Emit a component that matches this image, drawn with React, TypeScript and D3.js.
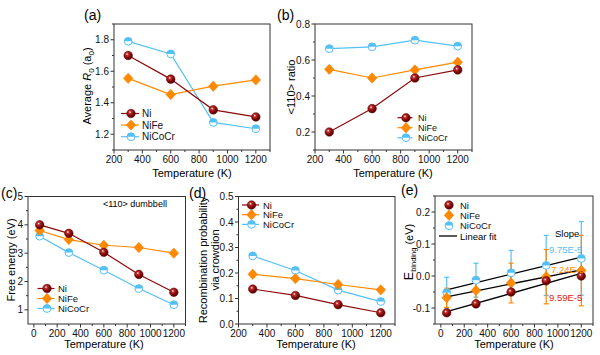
import React from 'react';
import * as d3 from 'd3';

// ---------- data ----------
const tempsAB = [300, 600, 900, 1200];
const tempsCE = [50, 300, 600, 900, 1200];

const aNi = [1.70, 1.55, 1.355, 1.31];
const aNiFe = [1.555, 1.452, 1.505, 1.545];
const aNiCoCr = [1.79, 1.71, 1.275, 1.235];

const bNi = [0.20, 0.33, 0.50, 0.545];
const bNiFe = [0.548, 0.50, 0.545, 0.588];
const bNiCoCr = [0.663, 0.673, 0.71, 0.677];

const cNi = [4.0, 3.7, 3.03, 2.25, 1.62];
const cNiFe = [3.8, 3.48, 3.28, 3.2, 3.0];
const cNiCoCr = [3.6, 3.02, 2.4, 1.75, 1.18];

const dNi = [0.137, 0.112, 0.076, 0.044];
const dNiFe = [0.195, 0.178, 0.155, 0.134];
const dNiCoCr = [0.267, 0.21, 0.133, 0.088];

const eNi = [-0.115, -0.087, -0.05, -0.015, 0.0];
const eNiFe = [-0.068, -0.045, -0.022, -0.002, 0.017];
const eNiCoCr = [-0.052, -0.013, 0.01, 0.033, 0.055];
const eErrNi = [0.004, 0.004, 0.005, 0.006, 0.008];
const eErrNiFe = [0.03, 0.042, 0.062, 0.085, 0.11];
const eErrNiCoCr = [0.048, 0.053, 0.07, 0.094, 0.115];
const slopeLabels = ['9.75E-5', '7.24E-5', '9.59E-5'];

const seriesNames = ['Ni', 'NiFe', 'NiCoCr'];

// ---------- style ----------
const C_NI = '#8B0A0A';
const C_NIFE = '#FF8A00';
const C_NICOCR = '#55C0F5';
const FONT = '"Liberation Sans", Arial, sans-serif';
const AXIS = '#333';

function Marker({ kind, x, y }: { kind: string; x: number; y: number }) {
  if (kind === 'Ni') {
    return (
      <g transform={`translate(${x},${y})`}>
        <circle r={4.3} fill="url(#sphereNi)" stroke="#5a0000" strokeWidth={0.5} />
      </g>
    );
  }
  if (kind === 'NiFe') {
    return (
      <g transform={`translate(${x},${y})`}>
        <path d="M0,-5.2L4.8,0L0,5.2L-4.8,0Z" fill={C_NIFE} stroke="#f07800" strokeWidth={0.5} />
      </g>
    );
  }
  const r = 3.9;
  return (
    <g transform={`translate(${x},${y})`}>
      <circle r={r} fill="#fff" stroke={C_NICOCR} strokeWidth={1} />
      <path d={`M${-r},0A${r},${r} 0 0 1 ${r},0Z`} fill={C_NICOCR} />
    </g>
  );
}

const colorOf: Record<string, string> = { Ni: C_NI, NiFe: C_NIFE, NiCoCr: C_NICOCR };

type PanelProps = {
  left: number; right: number; top: number; bottom: number;
  xDomain: [number, number]; yDomain: [number, number];
  xTicks: number[]; xMinor: number[];
  yTicks: number[]; yMinor: number[];
  yFmt: (v: number) => string;
  children: (x: d3.ScaleLinear<number, number>, y: d3.ScaleLinear<number, number>) => React.ReactNode;
};

function Panel(p: PanelProps) {
  const x = d3.scaleLinear().domain(p.xDomain).range([p.left, p.right]);
  const y = d3.scaleLinear().domain(p.yDomain).range([p.bottom, p.top]);
  return (
    <g>
      {p.children(x, y)}
      <rect x={p.left} y={p.top} width={p.right - p.left} height={p.bottom - p.top}
        fill="none" stroke={AXIS} strokeWidth={1} />
      {p.xTicks.map((t) => (
        <g key={'xt' + t}>
          <line x1={x(t)} x2={x(t)} y1={p.bottom} y2={p.bottom + 3.5} stroke={AXIS} />
          <text x={x(t)} y={p.bottom + 13} textAnchor="middle" fontSize={10} fontFamily={FONT} fill="#111">{t}</text>
        </g>
      ))}
      {p.xMinor.map((t) => (
        <line key={'xm' + t} x1={x(t)} x2={x(t)} y1={p.bottom} y2={p.bottom + 2} stroke={AXIS} />
      ))}
      {p.yTicks.map((t) => (
        <g key={'yt' + t}>
          <line x1={p.left - 3.5} x2={p.left} y1={y(t)} y2={y(t)} stroke={AXIS} />
          <text x={p.left - 5} y={y(t) + 3.5} textAnchor="end" fontSize={10} fontFamily={FONT} fill="#111">{p.yFmt(t)}</text>
        </g>
      ))}
      {p.yMinor.map((t) => (
        <line key={'ym' + t} x1={p.left - 2} x2={p.left} y1={y(t)} y2={y(t)} stroke={AXIS} />
      ))}
    </g>
  );
}

function Series({ x, y, xs, ys, name }: any) {
  const line = d3.line<number>().x((_, i) => x(xs[i])).y((v) => y(v));
  return (
    <g>
      <path d={line(ys) || ''} fill="none" stroke={colorOf[name]} strokeWidth={1.2} />
      {ys.map((v: number, i: number) => <Marker key={i} kind={name} x={x(xs[i])} y={y(v)} />)}
    </g>
  );
}

function Legend({ x0, y0, dy, len, textX, fs, names, withLine = true }: any) {
  return (
    <g>
      {names.map((n: string, i: number) => (
        <g key={n}>
          {withLine && <line x1={x0} x2={x0 + len} y1={y0 + i * dy} y2={y0 + i * dy} stroke={colorOf[n]} strokeWidth={1.2} />}
          <Marker kind={n} x={x0 + len / 2 + 1} y={y0 + i * dy} />
          <text x={textX} y={y0 + i * dy + 3.5} fontSize={fs} fontFamily={FONT} fill="#111">{n}</text>
        </g>
      ))}
    </g>
  );
}

const range = (a: number, b: number, s: number) => d3.range(a, b + s / 2, s).map((v) => +v.toFixed(4));

function linreg(xs: number[], ys: number[]) {
  const mx = d3.mean(xs)!, my = d3.mean(ys)!;
  const sxy = d3.sum(xs.map((v, i) => (v - mx) * (ys[i] - my)));
  const sxx = d3.sum(xs.map((v) => (v - mx) ** 2));
  const m = sxy / sxx;
  return { m, b: my - m * mx };
}

export default function App() {
  const tf = (v: number) => v.toFixed(1);
  const xTickA = range(200, 1200, 200);
  const xMinorA = range(300, 1300, 200);
  const xTickC = range(0, 1200, 200);
  const xMinorC = range(100, 1300, 200);

  const eSeries = [
    { name: 'NiCoCr', ys: eNiCoCr, err: eErrNiCoCr },
    { name: 'NiFe', ys: eNiFe, err: eErrNiFe },
    { name: 'Ni', ys: eNi, err: eErrNi },
  ];

  return (
    <svg width={600} height={355} style={{ position: 'absolute', left: 0, top: 0, background: '#fff' }}>
      <defs>
        <radialGradient id="sphereNi" cx="0.38" cy="0.35" r="0.7">
          <stop offset="0" stopColor="#ffffff" />
          <stop offset="0.22" stopColor="#c03030" />
          <stop offset="0.6" stopColor="#820808" />
          <stop offset="1" stopColor="#4a0000" />
        </radialGradient>
      </defs>
      <rect width={600} height={355} fill="#fff" />

      {/* (a) */}
      <Panel left={114} right={270} top={24} bottom={150} xDomain={[200, 1300]} yDomain={[1.1, 1.9]}
        xTicks={xTickA} xMinor={xMinorA} yTicks={range(1.2, 1.8, 0.2)} yMinor={range(1.1, 1.9, 0.2)} yFmt={tf}>
        {(x, y) => (
          <g>
            <Series x={x} y={y} xs={tempsAB} ys={aNiCoCr} name="NiCoCr" />
            <Series x={x} y={y} xs={tempsAB} ys={aNiFe} name="NiFe" />
            <Series x={x} y={y} xs={tempsAB} ys={aNi} name="Ni" />
          </g>
        )}
      </Panel>
      <Legend x0={121} y0={113.5} dy={11.6} len={18} textX={142} fs={10} names={seriesNames} />
      <text x={84} y={20} fontSize={14} fontFamily={FONT}>(a)</text>
      <text transform="translate(91,86) rotate(-90)" textAnchor="middle" fontSize={11} fontFamily={FONT}>
        Average <tspan fontStyle="italic">R</tspan><tspan fontSize={8} dy={3}>0</tspan><tspan dy={-3}> (a</tspan><tspan fontSize={8} dy={3}>0</tspan><tspan dy={-3}>)</tspan>
      </text>
      <text x={192} y={177} textAnchor="middle" fontSize={11} fontFamily={FONT}>Temperature (K)</text>

      {/* (b) */}
      <Panel left={315} right={472} top={24} bottom={150} xDomain={[200, 1300]} yDomain={[0.1, 0.8]}
        xTicks={xTickA} xMinor={xMinorA} yTicks={range(0.2, 0.8, 0.2)} yMinor={range(0.1, 0.7, 0.2)} yFmt={tf}>
        {(x, y) => (
          <g>
            <Series x={x} y={y} xs={tempsAB} ys={bNiCoCr} name="NiCoCr" />
            <Series x={x} y={y} xs={tempsAB} ys={bNiFe} name="NiFe" />
            <Series x={x} y={y} xs={tempsAB} ys={bNi} name="Ni" />
          </g>
        )}
      </Panel>
      <Legend x0={397.5} y0={117.7} dy={10} len={15} textX={418} fs={9} names={seriesNames} />
      <text x={277} y={20} fontSize={14} fontFamily={FONT}>(b)</text>
      <text transform="translate(295,87) rotate(-90)" textAnchor="middle" fontSize={11} fontFamily={FONT}>&lt;110&gt; ratio</text>
      <text x={393} y={177} textAnchor="middle" fontSize={11} fontFamily={FONT}>Temperature (K)</text>

      {/* (c) */}
      <Panel left={28} right={185.5} top={196.5} bottom={324} xDomain={[-50, 1300]} yDomain={[0.5, 5]}
        xTicks={xTickC} xMinor={xMinorC} yTicks={range(1, 5, 1)} yMinor={range(1.5, 4.5, 1)} yFmt={(v) => String(v)}>
        {(x, y) => (
          <g>
            <Series x={x} y={y} xs={tempsCE} ys={cNiCoCr} name="NiCoCr" />
            <Series x={x} y={y} xs={tempsCE} ys={cNiFe} name="NiFe" />
            <Series x={x} y={y} xs={tempsCE} ys={cNi} name="Ni" />
          </g>
        )}
      </Panel>
      <Legend x0={37.5} y0={288.5} dy={10} len={17} textX={58} fs={9.5} names={seriesNames} />
      <text x={103} y={207} fontSize={9} fontFamily={FONT}>&lt;110&gt; dumbbell</text>
      <text x={1} y={198} fontSize={14} fontFamily={FONT}>(c)</text>
      <text transform="translate(15,260) rotate(-90)" textAnchor="middle" fontSize={11} fontFamily={FONT}>Free energy (eV)</text>
      <text x={104} y={348} textAnchor="middle" fontSize={11} fontFamily={FONT}>Temperature (K)</text>

      {/* (d) */}
      <Panel left={238.5} right={395} top={196.5} bottom={324} xDomain={[200, 1300]} yDomain={[0, 0.5]}
        xTicks={xTickA} xMinor={xMinorA} yTicks={range(0, 0.5, 0.1)} yMinor={range(0.05, 0.45, 0.1)} yFmt={tf}>
        {(x, y) => (
          <g>
            <Series x={x} y={y} xs={tempsAB} ys={dNiCoCr} name="NiCoCr" />
            <Series x={x} y={y} xs={tempsAB} ys={dNiFe} name="NiFe" />
            <Series x={x} y={y} xs={tempsAB} ys={dNi} name="Ni" />
          </g>
        )}
      </Panel>
      <Legend x0={242} y0={205} dy={9.7} len={17} textX={263} fs={9.5} names={seriesNames} />
      <text x={189} y={198} fontSize={14} fontFamily={FONT}>(d)</text>
      <text transform="translate(207,260) rotate(-90)" textAnchor="middle" fontSize={11} fontFamily={FONT}>Recombination probability</text>
      <text transform="translate(219,260) rotate(-90)" textAnchor="middle" fontSize={11} fontFamily={FONT}>via crowdion</text>
      <text x={316} y={348} textAnchor="middle" fontSize={11} fontFamily={FONT}>Temperature (K)</text>

      {/* (e) */}
      <Panel left={435} right={593} top={196} bottom={324} xDomain={[-50, 1300]} yDomain={[-0.15, 0.25]}
        xTicks={xTickC} xMinor={xMinorC} yTicks={range(-0.1, 0.2, 0.1)} yMinor={range(-0.15, 0.25, 0.1)} yFmt={tf}>
        {(x, y) => (
          <g>
            {eSeries.map((s) => (
              <g key={'err' + s.name}>
                {s.ys.map((v, i) => (
                  <g key={i} stroke={colorOf[s.name]} strokeWidth={1.2}>
                    <line x1={x(tempsCE[i])} x2={x(tempsCE[i])} y1={y(v - s.err[i])} y2={y(v + s.err[i])} />
                    <line x1={x(tempsCE[i]) - 2.5} x2={x(tempsCE[i]) + 2.5} y1={y(v - s.err[i])} y2={y(v - s.err[i])} />
                    <line x1={x(tempsCE[i]) - 2.5} x2={x(tempsCE[i]) + 2.5} y1={y(v + s.err[i])} y2={y(v + s.err[i])} />
                  </g>
                ))}
              </g>
            ))}
            {eSeries.map((s) => {
              const { m, b } = linreg(tempsCE, s.ys);
              return (
                <line key={'fit' + s.name} x1={x(50)} x2={x(1200)} y1={y(m * 50 + b)} y2={y(m * 1200 + b)}
                  stroke="#000" strokeWidth={1.3} />
              );
            })}
            {eSeries.map((s) => (
              <g key={'mk' + s.name}>
                {s.ys.map((v, i) => <Marker key={i} kind={s.name} x={x(tempsCE[i])} y={y(v)} />)}
              </g>
            ))}
          </g>
        )}
      </Panel>
      <Legend x0={439} y0={205} dy={10.3} len={18} textX={460} fs={9.5} names={seriesNames} withLine={false} />
      <line x1={439} x2={457} y1={236} y2={236} stroke="#000" strokeWidth={1.3} />
      <text x={460} y={239.5} fontSize={9.5} fontFamily={FONT}>Linear fit</text>
      <text x={555} y={237} fontSize={9.5} fontFamily={FONT}>Slope</text>
      <text x={549} y={252.8} fontSize={9.5} fontFamily={FONT} fill={C_NICOCR}>{slopeLabels[0]}</text>
      <text x={551} y={272.8} fontSize={9.5} fontFamily={FONT} fill={C_NIFE}>{slopeLabels[1]}</text>
      <text x={549} y={300.8} fontSize={9.5} fontFamily={FONT} fill="#e02020">{slopeLabels[2]}</text>
      <text x={401} y={195} fontSize={14} fontFamily={FONT}>(e)</text>
      <text transform="translate(413,252) rotate(-90)" textAnchor="middle" fontSize={12.5} fontFamily={FONT}>
        E<tspan fontSize={7.5} dy={2.5}>binding</tspan><tspan dy={-2.5} fontSize={11}> (eV)</tspan>
      </text>
      <text x={514} y={348} textAnchor="middle" fontSize={11} fontFamily={FONT}>Temperature (K)</text>
    </svg>
  );
}
